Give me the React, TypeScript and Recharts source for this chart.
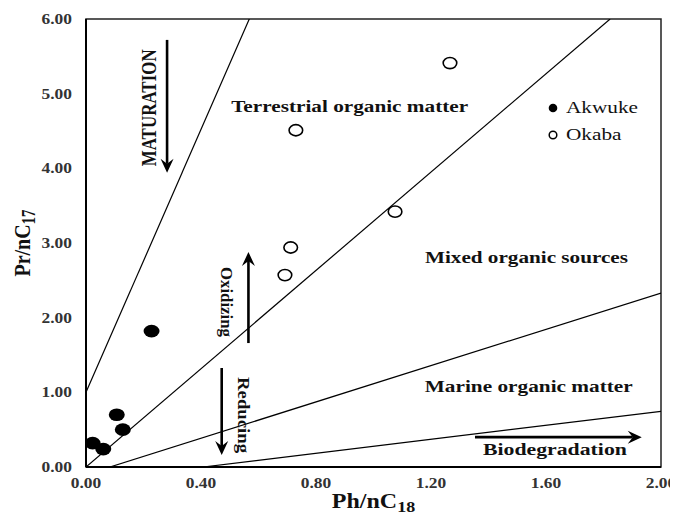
import React from 'react';
import {
  ScatterChart, Scatter, XAxis, YAxis, ReferenceArea, ReferenceLine, Legend,
} from 'recharts';

const FONT = '"Liberation Serif", "Times New Roman", serif';
// text is drawn a little wider than tall
const STRETCH = 1.2;

// Pr/nC17 against Ph/nC18 for the two localities
const akwuke = [
  { x: 0.023, y: 0.32 },
  { x: 0.06, y: 0.24 },
  { x: 0.107, y: 0.7 },
  { x: 0.128, y: 0.5 },
  { x: 0.228, y: 1.82 },
];

const okaba = [
  { x: 0.692, y: 2.57 },
  { x: 0.712, y: 2.94 },
  { x: 0.73, y: 4.51 },
  { x: 1.075, y: 3.42 },
  { x: 1.266, y: 5.41 },
];

// field boundaries, end points on the frame
const boundaryA = [{ x: 0, y: 1.0 }, { x: 0.568, y: 6 }];
const boundaryB = [{ x: 0, y: 0 }, { x: 1.823, y: 6 }];
const boundaryC = [{ x: 0.083, y: 0 }, { x: 2, y: 2.33 }];
const boundaryD = [{ x: 0.407, y: 0 }, { x: 2, y: 0.746 }];

const xTicks = [0, 0.4, 0.8, 1.2, 1.6, 2.0];
const yTicks = [0, 1, 2, 3, 4, 5, 6];

const fieldLabels = [
  { x: 0.917, y: 4.83, text: 'Terrestrial organic matter', size: 17, len: 237, angle: 0 },
  { x: 1.532, y: 2.81, text: 'Mixed organic sources', size: 17, len: 203, angle: 0 },
  { x: 1.54, y: 1.085, text: 'Marine organic matter', size: 17, len: 208, angle: 0 },
  { x: 1.631, y: 0.241, text: 'Biodegradation', size: 17, len: 144, angle: 0 },
  { x: 0.22, y: 4.81, text: 'MATURATION', size: 17, len: 117, angle: -90 },
  { x: 0.489, y: 2.21, text: 'Oxidizing', size: 14, len: 70, angle: 90 },
  { x: 0.548, y: 0.696, text: 'Reducing', size: 14, len: 76, angle: 90 },
];

const arrows = [
  { x1: 0.282, y1: 5.72, x2: 0.282, y2: 3.94 },
  { x1: 0.565, y1: 1.66, x2: 0.565, y2: 2.88 },
  { x1: 0.472, y1: 1.326, x2: 0.472, y2: 0.16 },
  { x1: 1.353, y1: 0.4, x2: 1.933, y2: 0.4 },
];

const seriesNames = ['Akwuke', 'Okaba'];

const FilledDot = (props: any) => (
  <ellipse cx={props.cx} cy={props.cy} rx={8} ry={6.3} fill="#000" />
);

const OpenDot = (props: any) => (
  <ellipse cx={props.cx} cy={props.cy} rx={6.8} ry={5.6} fill="#fff" stroke="#000" strokeWidth={1.6} />
);

const NoDot = () => <g />;

const FieldLabel = (props: any) => {
  const { cx, cy, payload } = props;
  const len = payload.angle ? payload.len : payload.len / STRETCH;
  return (
    <text
      x={0}
      y={0}
      textAnchor="middle"
      dominantBaseline="central"
      transform={`translate(${cx} ${cy}) scale(${STRETCH} 1) rotate(${payload.angle})`}
      fontFamily={FONT}
      fontWeight="bold"
      fontSize={payload.size}
      textLength={len}
      lengthAdjust="spacingAndGlyphs"
      fill="#111"
    >
      {payload.text}
    </text>
  );
};

// straight shaft with a notched head at (x2, y2)
const Arrow = (props: any) => {
  const { x1, y1, x2, y2 } = props;
  const dx = x2 - x1;
  const dy = y2 - y1;
  const len = Math.sqrt(dx * dx + dy * dy) || 1;
  const ux = dx / len;
  const uy = dy / len;
  const nx = -uy;
  const ny = ux;
  const headLen = 14;
  const half = 6.5;
  const notch = 9;
  const head = [
    [x2, y2],
    [x2 - ux * headLen + nx * half, y2 - uy * headLen + ny * half],
    [x2 - ux * notch, y2 - uy * notch],
    [x2 - ux * headLen - nx * half, y2 - uy * headLen - ny * half],
  ].map((p) => p.join(',')).join(' ');
  return (
    <g>
      <line x1={x1} y1={y1} x2={x2 - ux * notch} y2={y2 - uy * notch} stroke="#000" strokeWidth={2.6} />
      <polygon points={head} fill="#000" />
    </g>
  );
};

const XTick = (props: any) => {
  const { x, y, payload } = props;
  return (
    <text
      x={0}
      y={0}
      dy="0.71em"
      transform={`translate(${x} ${y}) scale(${STRETCH} 1)`}
      textAnchor="middle"
      fontFamily={FONT}
      fontWeight="bold"
      fontSize={14.5}
      fill="#333"
    >
      {Number(payload.value).toFixed(2)}
    </text>
  );
};

const YTick = (props: any) => {
  const { x, y, payload } = props;
  return (
    <text
      x={0}
      y={0}
      dy="0.355em"
      transform={`translate(${x} ${y}) scale(${STRETCH} 1)`}
      textAnchor="end"
      fontFamily={FONT}
      fontWeight="bold"
      fontSize={14.5}
      fill="#333"
    >
      {Number(payload.value).toFixed(2)}
    </text>
  );
};

const XTitle = (props: any) => {
  const vb = props.viewBox || { x: 78, y: 459, width: 575, height: 52 };
  const cx = vb.x + vb.width / 2;
  const y = vb.y + 41;
  return (
    <text
      x={0}
      y={0}
      transform={`translate(${cx} ${y}) scale(${STRETCH} 1)`}
      textAnchor="middle"
      fontFamily={FONT}
      fontWeight="bold"
      fontSize={20}
      fill="#111"
    >
      Ph/nC<tspan dy={4} fontSize={15}>18</tspan>
    </text>
  );
};

const YTitle = (props: any) => {
  const vb = props.viewBox || { x: 0, y: 11, width: 78, height: 448 };
  const x = vb.x + 22;
  const y = vb.y + vb.height / 2;
  return (
    <text
      x={0}
      y={0}
      transform={`translate(${x} ${y}) scale(${STRETCH} 1) rotate(-90)`}
      textAnchor="middle"
      fontFamily={FONT}
      fontWeight="bold"
      fontSize={20}
      fill="#111"
    >
      Pr/nC<tspan dy={4} fontSize={15}>17</tspan>
    </text>
  );
};

const renderLegend = () => (
  <div style={{ fontFamily: FONT, fontSize: 17, color: '#111' }}>
    {seriesNames.map((name, i) => (
      <div key={name} style={{ display: 'flex', alignItems: 'center', height: 27 }}>
        <svg width={12} height={12} style={{ marginRight: 7 }}>
          {i === 0 ? (
            <circle cx={6} cy={6} r={4.3} fill="#000" />
          ) : (
            <circle cx={6} cy={6} r={3.8} fill="#fff" stroke="#000" strokeWidth={1.5} />
          )}
        </svg>
        <span style={{ display: 'inline-block', transform: 'scaleX(1.25)', transformOrigin: 'left center' }}>
          {name}
        </span>
      </div>
    ))}
  </div>
);

const App: React.FC = () => {
  return (
    <ScatterChart width={670} height={511} margin={{ top: 11, right: 17, bottom: 0, left: 0 }}>
      <XAxis
        type="number"
        dataKey="x"
        domain={[0, 2]}
        ticks={xTicks}
        tick={<XTick />}
        tickLine={false}
        tickSize={6}
        tickMargin={5}
        axisLine={{ stroke: '#000', strokeWidth: 2 }}
        height={52}
        allowDataOverflow
        label={<XTitle />}
      />
      <YAxis
        type="number"
        dataKey="y"
        domain={[0, 6]}
        ticks={yTicks}
        tick={<YTick />}
        tickLine={false}
        tickSize={6}
        tickMargin={8}
        axisLine={{ stroke: '#000', strokeWidth: 2 }}
        width={78}
        allowDataOverflow
        label={<YTitle />}
      />
      <ReferenceArea x1={0} x2={2} y1={0} y2={6} fill="none" stroke="#222" strokeWidth={1.5} />
      <Scatter data={boundaryA} line={{ stroke: '#000', strokeWidth: 1.2 }} shape={NoDot} legendType="none" isAnimationActive={false} />
      <Scatter data={boundaryB} line={{ stroke: '#000', strokeWidth: 1.2 }} shape={NoDot} legendType="none" isAnimationActive={false} />
      <Scatter data={boundaryC} line={{ stroke: '#000', strokeWidth: 1.2 }} shape={NoDot} legendType="none" isAnimationActive={false} />
      <Scatter data={boundaryD} line={{ stroke: '#000', strokeWidth: 1.2 }} shape={NoDot} legendType="none" isAnimationActive={false} />
      <Scatter data={fieldLabels} shape={FieldLabel} legendType="none" isAnimationActive={false} />
      {arrows.map((a, i) => (
        <ReferenceLine
          key={i}
          segment={[{ x: a.x1, y: a.y1 }, { x: a.x2, y: a.y2 }]}
          shape={Arrow}
        />
      ))}
      <Scatter name="Akwuke" data={akwuke} shape={FilledDot} isAnimationActive={false} />
      <Scatter name="Okaba" data={okaba} shape={OpenDot} isAnimationActive={false} />
      <Legend
        layout="vertical"
        align="center"
        verticalAlign="middle"
        content={renderLegend}
        wrapperStyle={{ left: 539, top: 86.5, width: 120 }}
      />
    </ScatterChart>
  );
};

export default App;
